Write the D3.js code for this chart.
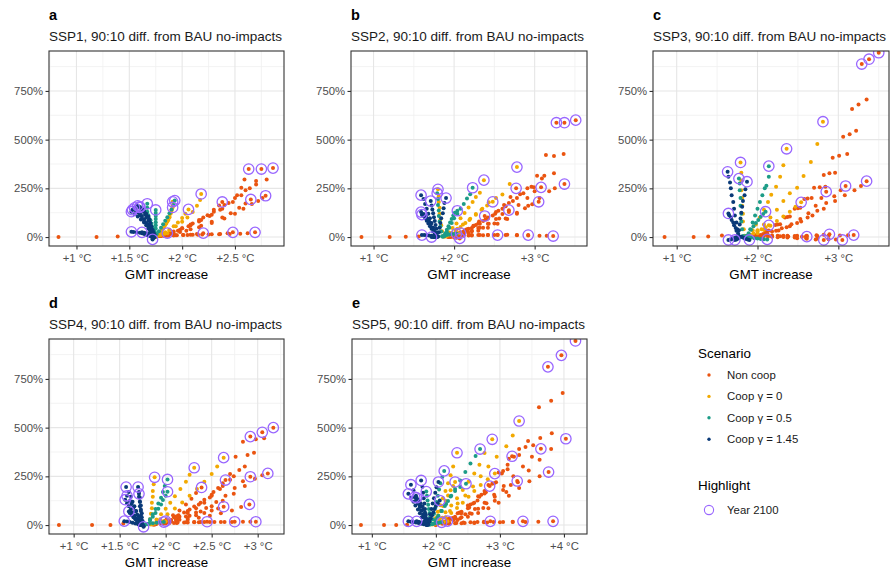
<!DOCTYPE html>
<html>
<head>
<meta charset="utf-8">
<script src="https://cdn.jsdelivr.net/npm/d3@7"></script>
<style>
  body { margin: 0; background: #fff; }
  svg { font-family: "Liberation Sans", Arial, sans-serif; }
</style>
</head>
<body>
<svg id="chart" width="894" height="573"></svg>
<script>
// ---- data: each series is a list of trajectories [gmt, pct]; last point of a trajectory = year 2100
const panelLetters = ["a", "b", "c", "d", "e"];
const panelTitles = [
  "SSP1, 90:10 diff. from BAU no-impacts",
  "SSP2, 90:10 diff. from BAU no-impacts",
  "SSP3, 90:10 diff. from BAU no-impacts",
  "SSP4, 90:10 diff. from BAU no-impacts",
  "SSP5, 90:10 diff. from BAU no-impacts"
];
const xTicks = [[1, 1.5, 2, 2.5], [1, 2, 3], [1, 2, 3], [1, 1.5, 2, 2.5, 3], [1, 2, 3, 4]];
const xDomains = [[0.74, 2.964], [0.72, 3.65], [0.707, 3.627], [0.732, 3.286], [0.69, 4.36]];
const yTicks = [0, 250, 500, 750];
const yDomain = [-46, 955];
const scenarioLabels = ["Non coop", "Coop \u03b3 = 0", "Coop \u03b3 = 0.5", "Coop \u03b3 = 1.45"];
const highlightLabel = "Year 2100";

// SSP1
const ssp1Early = [[0.83, 0], [1.19, 0], [1.39, 3]];
const ssp1NonCoop = [
  [[1.80,5],[1.90,20],[2.00,45],[2.10,70],[2.20,100],[2.30,130],[2.40,165],[2.50,200],[2.60,240],[2.70,270],[2.80,296],[2.86,354]],
  [[1.78,5],[1.88,18],[1.98,38],[2.08,60],[2.18,88],[2.28,115],[2.38,145],[2.48,180],[2.56,215],[2.64,250],[2.70,288],[2.75,349]],
  [[1.76,4],[1.86,15],[1.96,32],[2.06,55],[2.16,80],[2.26,108],[2.36,140],[2.44,175],[2.52,215],[2.56,253],[2.59,296],[2.63,349]],
  [[1.80,6],[1.92,18],[2.04,32],[2.16,50],[2.28,72],[2.40,95],[2.50,120],[2.58,145],[2.66,170],[2.72,185],[2.76,200],[2.79,212]],
  [[1.78,5],[1.88,14],[1.98,26],[2.08,40],[2.18,58],[2.28,78],[2.38,100],[2.46,122],[2.54,150],[2.60,172],[2.65,193]],
  [[1.76,4],[1.84,14],[1.92,28],[2.00,45],[2.08,64],[2.16,88],[2.24,112],[2.30,140],[2.35,162],[2.38,180]],
  [[1.75,2],[1.85,6],[1.95,9],[2.05,11],[2.15,12],[2.25,13],[2.35,14],[2.45,15],[2.55,17],[2.62,20],[2.69,24]],
  [[1.74,2],[1.83,5],[1.92,8],[2.01,10],[2.10,12],[2.19,13],[2.28,14],[2.36,16],[2.43,19],[2.48,24]],
  [[1.73,2],[1.80,5],[1.87,7],[1.94,9],[2.01,10],[2.08,12],[2.14,15],[2.20,20]]
];
const ssp1Coop0 = [
  [[1.76,4],[1.82,18],[1.88,35],[1.94,55],[2.00,78],[2.05,100],[2.10,128],[2.14,160],[2.17,190],[2.18,221]],
  [[1.76,3],[1.80,12],[1.84,24],[1.88,38],[1.92,55],[1.96,75],[2.00,98],[2.03,120],[2.06,142]],
  [[1.75,3],[1.78,14],[1.80,28],[1.82,45],[1.84,62],[1.86,80],[1.88,100],[1.89,122],[1.90,142],[1.91,162],[1.91,181]],
  [[1.75,2],[1.77,12],[1.79,24],[1.81,38],[1.83,54],[1.85,70],[1.87,88],[1.88,104],[1.89,120],[1.90,136],[1.91,152]],
  [[1.74,1],[1.76,5],[1.78,9],[1.80,12],[1.82,15],[1.84,18],[1.86,20]]
];
const ssp1Coop05 = [
  [[1.74,3],[1.76,15],[1.78,30],[1.80,48],[1.82,66],[1.84,84],[1.86,102],[1.88,122],[1.90,142],[1.92,165],[1.93,187]],
  [[1.73,2],[1.73,15],[1.72,32],[1.71,50],[1.70,70],[1.69,92],[1.68,112],[1.67,130],[1.67,150],[1.67,171]],
  [[1.73,2],[1.74,14],[1.74,28],[1.75,44],[1.75,60],[1.75,76],[1.75,92],[1.75,108],[1.75,124],[1.75,139]],
  [[1.74,2],[1.74,16],[1.73,32],[1.72,50],[1.71,68],[1.70,86],[1.68,104],[1.66,120],[1.64,134],[1.62,145],[1.60,155]]
];
const ssp1Coop145 = [
  [[1.72,2],[1.71,12],[1.70,25],[1.69,40],[1.68,55],[1.66,72],[1.64,90],[1.62,108],[1.60,122],[1.57,135],[1.53,140]],
  [[1.73,3],[1.72,15],[1.71,30],[1.70,48],[1.69,66],[1.68,84],[1.66,100],[1.65,116],[1.63,130],[1.62,142],[1.60,152]],
  [[1.74,2],[1.74,10],[1.73,22],[1.72,35],[1.70,48],[1.67,60],[1.64,75],[1.61,90],[1.58,105],[1.55,118],[1.52,130]],
  [[1.73,2],[1.72,14],[1.70,28],[1.68,44],[1.66,60],[1.64,78],[1.62,96],[1.60,112],[1.58,126],[1.56,138],[1.55,150]],
  [[1.74,3],[1.73,18],[1.72,36],[1.71,54],[1.70,72],[1.69,90],[1.68,106],[1.66,120],[1.64,132],[1.62,140],[1.58,160]],
  [[1.72,1],[1.70,4],[1.68,8],[1.66,12],[1.64,16],[1.62,20],[1.60,22],[1.57,24],[1.54,26],[1.52,27]],
  [[1.73,1],[1.72,5],[1.71,9],[1.70,13],[1.68,17],[1.66,20],[1.64,22],[1.62,24]],
  [[1.74,1],[1.73,-5],[1.72,-9],[1.72,-12]]
];

// SSP2
const ssp2Early = [[0.85, 0], [1.20, 0], [1.40, 1], [1.56, 3]];
const ssp2NonCoop = [
  [[1.95,6],[2.06,20],[2.18,42],[2.30,70],[2.42,100],[2.55,135],[2.68,175],[2.82,220],[2.96,258],[3.09,300],[3.24,327],[3.36,426],[3.51,600]],
  [[1.94,5],[2.04,18],[2.15,38],[2.27,62],[2.39,90],[2.51,120],[2.64,158],[2.78,200],[2.91,250],[3.03,315],[3.14,421],[3.27,587]],
  [[1.93,4],[2.03,16],[2.13,34],[2.24,56],[2.36,82],[2.48,110],[2.60,145],[2.73,185],[2.86,225],[2.99,255],[3.12,315],[3.24,416],[3.37,587]],
  [[1.95,5],[2.08,15],[2.22,30],[2.36,48],[2.50,70],[2.64,95],[2.78,125],[2.92,160],[3.06,200],[3.18,235],[3.25,250],[3.37,272]],
  [[1.94,4],[2.05,14],[2.17,28],[2.30,46],[2.43,68],[2.56,95],[2.68,128],[2.80,165],[2.91,200],[3.00,235],[3.08,255]],
  [[1.93,4],[2.02,14],[2.12,28],[2.22,46],[2.32,68],[2.42,95],[2.52,128],[2.62,165],[2.70,205],[2.77,250]],
  [[1.94,3],[2.06,10],[2.18,20],[2.30,32],[2.42,48],[2.54,68],[2.66,92],[2.78,120],[2.88,148],[2.97,168],[3.05,181]],
  [[1.93,3],[2.02,10],[2.12,20],[2.22,32],[2.32,48],[2.42,68],[2.52,92],[2.60,118],[2.68,138]],
  [[1.93,3],[2.00,12],[2.08,24],[2.16,40],[2.24,58],[2.31,80],[2.38,108]],
  [[1.95,2],[2.08,6],[2.22,8],[2.36,9],[2.50,10],[2.64,10],[2.78,9],[2.92,8],[3.06,7],[3.15,6],[3.23,5]],
  [[1.94,2],[2.06,5],[2.18,8],[2.30,10],[2.42,11],[2.54,12],[2.66,12],[2.78,11],[2.92,10]],
  [[1.93,2],[2.02,5],[2.12,8],[2.22,10],[2.32,11],[2.42,11],[2.54,10]],
  [[1.92,1],[1.96,0],[2.00,-2],[2.03,-4],[2.07,-7]]
];
const ssp2Coop0 = [
  [[1.90,5],[1.97,22],[2.04,42],[2.11,64],[2.19,88],[2.27,115],[2.35,145],[2.43,178],[2.52,200],[2.60,219],[2.69,272],[2.78,359]],
  [[1.88,5],[1.93,24],[1.98,46],[2.03,70],[2.08,96],[2.13,124],[2.18,152],[2.23,180],[2.27,205],[2.32,227],[2.37,292]],
  [[1.90,4],[1.96,18],[2.02,34],[2.08,52],[2.14,72],[2.20,94],[2.27,118],[2.34,140],[2.41,162],[2.48,181]],
  [[1.86,4],[1.85,30],[1.84,60],[1.83,90],[1.82,120],[1.82,150],[1.81,180],[1.81,210],[1.80,245]],
  [[1.88,2],[1.92,8],[1.96,12],[2.00,15],[2.04,18],[2.08,20]]
];
const ssp2Coop05 = [
  [[1.88,5],[1.91,25],[1.94,48],[1.97,72],[2.00,96],[2.04,120],[2.08,145],[2.12,170],[2.16,198],[2.20,220],[2.23,253]],
  [[1.87,4],[1.89,20],[1.91,38],[1.93,56],[1.95,74],[1.97,92],[1.99,110],[2.01,125],[2.04,135]],
  [[1.85,4],[1.84,28],[1.83,54],[1.82,80],[1.81,108],[1.81,136],[1.80,165],[1.80,195],[1.79,225]],
  [[1.86,2],[1.88,6],[1.91,10],[1.94,13],[1.97,15],[2.00,16],[2.03,17]]
];
const ssp2Coop145 = [
  [[1.78,3],[1.76,25],[1.74,48],[1.72,72],[1.70,96],[1.68,120],[1.66,145],[1.64,170],[1.62,195],[1.59,215]],
  [[1.80,3],[1.81,25],[1.82,48],[1.83,72],[1.84,96],[1.86,122],[1.87,148],[1.88,175],[1.90,200]],
  [[1.78,2],[1.76,14],[1.74,28],[1.72,42],[1.70,56],[1.68,70],[1.66,84],[1.64,98],[1.62,108],[1.60,115]],
  [[1.79,2],[1.77,16],[1.75,32],[1.73,48],[1.71,64],[1.69,80],[1.67,94],[1.65,106],[1.62,118],[1.59,128]],
  [[1.80,3],[1.79,22],[1.78,42],[1.77,62],[1.76,82],[1.75,102],[1.74,122],[1.73,142],[1.72,162],[1.71,185]],
  [[1.78,1],[1.77,2],[1.76,1],[1.75,0],[1.74,0],[1.72,0]],
  [[1.78,2],[1.75,4],[1.72,6],[1.69,8],[1.66,9],[1.63,10],[1.60,10]]
];

// SSP3
const ssp3Early = [[0.85, 0], [1.21, 0], [1.39, 3], [1.56, 8]];
const ssp3NonCoop = [
  [[1.98,8],[2.10,30],[2.22,62],[2.34,100],[2.46,145],[2.58,195],[2.70,253],[2.82,318],[2.93,407],[3.06,515],[3.17,657],[3.29,888]],
  [[1.99,9],[2.12,32],[2.25,64],[2.37,103],[2.50,148],[2.62,198],[2.77,256],[2.89,327],[3.01,417],[3.14,528],[3.25,681],[3.38,913]],
  [[2.00,10],[2.14,34],[2.28,66],[2.40,106],[2.53,150],[2.67,200],[2.84,258],[2.96,330],[3.11,426],[3.22,545],[3.35,706],[3.50,946]],
  [[1.98,6],[2.12,18],[2.26,34],[2.40,55],[2.54,80],[2.68,110],[2.82,145],[2.96,185],[3.08,215],[3.20,240],[3.28,262],[3.35,287]],
  [[1.97,6],[2.10,17],[2.23,32],[2.36,50],[2.49,72],[2.62,100],[2.74,135],[2.85,175],[2.95,210],[3.03,240],[3.09,262]],
  [[1.96,5],[2.07,15],[2.18,28],[2.30,45],[2.42,66],[2.53,92],[2.63,122],[2.72,160],[2.79,200],[2.85,233]],
  [[1.90,8],[2.04,10],[2.18,8],[2.32,6],[2.46,5],[2.60,4],[2.74,5],[2.88,6],[3.02,8],[3.12,9],[3.19,10]],
  [[1.89,8],[2.01,9],[2.13,8],[2.25,7],[2.37,6],[2.49,6],[2.61,7],[2.73,9],[2.82,12],[2.89,14]],
  [[1.90,6],[2.04,4],[2.18,2],[2.32,0],[2.46,-2],[2.60,-5],[2.74,-8],[2.88,-11],[2.97,-13],[3.05,-15]],
  [[1.89,5],[2.01,3],[2.13,1],[2.25,-1],[2.37,-3],[2.49,-6],[2.61,-9],[2.72,-12],[2.82,-15]],
  [[1.88,6],[1.98,6],[2.08,5],[2.18,4],[2.28,4],[2.38,3],[2.48,3],[2.55,2],[2.61,2]]
];
const ssp3Coop0 = [
  [[1.92,10],[2.00,35],[2.08,65],[2.16,100],[2.24,140],[2.32,185],[2.40,225],[2.49,253],[2.57,313],[2.66,385],[2.74,477],[2.81,592]],
  [[1.90,8],[1.94,35],[1.98,65],[2.03,100],[2.08,140],[2.13,180],[2.17,217],[2.23,258],[2.28,309],[2.32,369],[2.36,453]],
  [[1.92,6],[2.00,20],[2.08,38],[2.16,58],[2.24,82],[2.32,106],[2.40,130],[2.47,155],[2.54,178]],
  [[1.84,6],[1.83,40],[1.82,80],[1.82,120],[1.81,160],[1.81,200],[1.80,240],[1.80,290],[1.80,330],[1.79,383]],
  [[1.86,4],[1.90,10],[1.95,20],[2.00,30],[2.05,40],[2.10,50],[2.14,60]]
];
const ssp3Coop05 = [
  [[1.88,6],[1.91,40],[1.94,75],[1.97,110],[2.00,145],[2.03,180],[2.06,215],[2.09,250],[2.11,263],[2.14,309],[2.14,364]],
  [[1.86,5],[1.89,20],[1.92,38],[1.95,55],[1.98,72],[2.01,88],[2.04,104],[2.07,118],[2.10,130]],
  [[1.82,5],[1.81,40],[1.80,80],[1.80,120],[1.79,160],[1.79,200],[1.78,240],[1.78,275],[1.77,300]],
  [[1.84,3],[1.88,0],[1.92,-3],[1.96,-6],[2.00,-8],[2.04,-10],[2.08,-11],[2.12,-12]]
];
const ssp3Coop145 = [
  [[1.76,5],[1.75,40],[1.74,75],[1.72,110],[1.71,145],[1.70,180],[1.68,215],[1.67,250],[1.66,280],[1.64,310],[1.63,335]],
  [[1.76,5],[1.77,35],[1.78,65],[1.79,95],[1.80,125],[1.81,155],[1.82,185],[1.84,215],[1.85,245],[1.87,284]],
  [[1.77,4],[1.76,18],[1.74,32],[1.73,46],[1.71,60],[1.70,74],[1.68,88],[1.67,100],[1.65,112],[1.64,121]],
  [[1.77,2],[1.75,0],[1.73,-3],[1.71,-6],[1.69,-9],[1.67,-12],[1.64,-15]],
  [[1.80,2],[1.82,-2],[1.84,-6],[1.86,-10],[1.88,-13],[1.90,-15]],
  [[1.78,1],[1.77,-4],[1.76,-8],[1.74,-12],[1.72,-15]]
];

// SSP4
const ssp4Early = [[0.84, 0], [1.20, 0], [1.40, 0], [1.54, 8]];
const ssp4NonCoop = [
  [[1.90,8],[2.02,25],[2.14,50],[2.26,80],[2.38,115],[2.50,155],[2.62,200],[2.74,250],[2.86,300],[2.96,371],[3.07,445],[3.17,500]],
  [[1.89,7],[2.00,22],[2.12,45],[2.24,72],[2.36,105],[2.48,142],[2.59,185],[2.70,232],[2.80,282],[2.89,360],[2.98,440],[3.05,476]],
  [[1.88,6],[1.98,20],[2.09,40],[2.20,65],[2.31,95],[2.42,130],[2.52,170],[2.62,215],[2.70,262],[2.76,351],[2.84,428],[2.92,454]],
  [[1.90,6],[2.02,16],[2.14,30],[2.26,48],[2.38,70],[2.50,96],[2.62,125],[2.74,160],[2.86,200],[2.97,238],[3.05,255],[3.11,265]],
  [[1.89,5],[2.00,14],[2.11,27],[2.22,44],[2.33,64],[2.44,88],[2.55,118],[2.65,150],[2.75,190],[2.84,225],[2.92,248]],
  [[1.88,5],[1.97,14],[2.06,26],[2.15,42],[2.24,62],[2.33,86],[2.42,115],[2.50,150],[2.57,190],[2.65,231]],
  [[1.89,4],[2.00,10],[2.12,18],[2.24,27],[2.36,37],[2.48,48],[2.60,60],[2.72,75],[2.82,92],[2.91,106]],
  [[1.88,4],[1.97,10],[2.06,18],[2.15,27],[2.24,38],[2.33,50],[2.42,62],[2.50,74],[2.57,85],[2.63,94]],
  [[1.87,4],[1.94,15],[2.01,30],[2.08,50],[2.15,75],[2.22,105],[2.28,135],[2.33,165],[2.39,193]],
  [[1.88,3],[2.00,8],[2.12,11],[2.24,13],[2.36,14],[2.48,15],[2.60,16],[2.72,16],[2.84,17],[2.92,17],[2.98,17]],
  [[1.87,3],[1.98,8],[2.09,11],[2.20,13],[2.31,14],[2.42,15],[2.53,16],[2.64,16],[2.75,17]],
  [[1.86,3],[1.95,8],[2.04,11],[2.13,13],[2.22,14],[2.31,15],[2.38,16],[2.45,17]]
];
const ssp4Coop0 = [
  [[1.86,6],[1.94,30],[2.02,56],[2.10,85],[2.18,116],[2.26,150],[2.34,185],[2.42,222],[2.50,262],[2.56,300],[2.63,346]],
  [[1.85,5],[1.90,28],[1.95,55],[2.00,84],[2.05,115],[2.10,148],[2.16,185],[2.22,222],[2.26,258],[2.31,294]],
  [[1.82,5],[1.83,30],[1.84,58],[1.85,86],[1.85,115],[1.86,145],[1.86,175],[1.87,210],[1.88,245]],
  [[1.84,3],[1.88,8],[1.92,12],[1.96,16],[2.00,20]]
];
const ssp4Coop05 = [
  [[1.80,5],[1.83,30],[1.86,56],[1.89,82],[1.92,110],[1.95,140],[1.97,170],[1.99,200],[2.02,234]],
  [[1.80,4],[1.83,22],[1.86,42],[1.89,62],[1.92,84],[1.95,106],[1.97,128],[2.00,150],[2.02,171]],
  [[1.78,3],[1.82,6],[1.86,9],[1.90,12],[1.94,14],[1.98,15]]
];
const ssp4Coop145 = [
  [[1.72,3],[1.71,25],[1.70,48],[1.68,72],[1.66,96],[1.64,120],[1.62,145],[1.60,170],[1.57,195]],
  [[1.74,3],[1.74,25],[1.73,48],[1.73,72],[1.72,96],[1.72,120],[1.71,145],[1.71,170],[1.70,195]],
  [[1.73,2],[1.72,18],[1.71,36],[1.69,54],[1.67,72],[1.65,90],[1.63,108],[1.61,124],[1.58,150]],
  [[1.75,2],[1.75,20],[1.74,40],[1.74,60],[1.73,80],[1.73,100],[1.72,120],[1.72,140],[1.71,160]],
  [[1.72,2],[1.70,16],[1.68,32],[1.66,48],[1.64,64],[1.62,80],[1.60,96],[1.58,112],[1.56,130]],
  [[1.72,1],[1.70,4],[1.67,8],[1.64,12],[1.61,15],[1.58,18],[1.55,20]],
  [[1.73,2],[1.71,10],[1.69,20],[1.67,30],[1.65,40],[1.63,52],[1.61,62],[1.60,70]],
  [[1.74,1],[1.75,-2],[1.76,-6],[1.76,-9]]
];

// SSP5
const ssp5Early = [[0.83, 0], [1.19, 0], [1.38, 0], [1.55, 2]];
const ssp5NonCoop = [
  [[2.02,8],[2.18,30],[2.34,60],[2.50,100],[2.66,148],[2.82,205],[2.98,270],[3.14,340],[3.30,390],[3.44,431],[3.61,605],[3.75,812]],
  [[2.03,9],[2.20,32],[2.37,64],[2.54,105],[2.71,155],[2.88,212],[3.05,278],[3.22,350],[3.40,400],[3.63,447],[3.80,638],[3.96,871]],
  [[2.04,10],[2.22,34],[2.40,68],[2.58,110],[2.76,162],[2.94,220],[3.12,286],[3.30,360],[3.52,410],[3.81,471],[3.98,678],[4.18,945]],
  [[2.02,6],[2.20,18],[2.38,35],[2.56,58],[2.74,88],[2.92,125],[3.10,170],[3.28,220],[3.45,280],[3.62,335],[3.80,390],[4.03,443]],
  [[2.01,6],[2.16,17],[2.31,33],[2.46,55],[2.61,82],[2.76,115],[2.91,155],[3.06,200],[3.21,250],[3.36,300],[3.50,350],[3.64,391]],
  [[2.02,5],[2.18,14],[2.34,26],[2.50,42],[2.66,62],[2.82,86],[2.98,115],[3.14,150],[3.30,190],[3.46,225],[3.62,250],[3.76,272]],
  [[2.00,5],[2.13,18],[2.26,36],[2.39,60],[2.52,90],[2.65,126],[2.78,168],[2.91,215],[3.03,265],[3.12,310],[3.19,353]],
  [[2.01,4],[2.14,12],[2.27,24],[2.40,40],[2.53,60],[2.66,84],[2.79,112],[2.92,145],[3.05,180],[3.17,205],[3.27,226]],
  [[2.00,4],[2.10,13],[2.20,26],[2.30,42],[2.40,62],[2.50,86],[2.60,114],[2.68,145],[2.76,175],[2.84,200]],
  [[2.00,2],[2.20,6],[2.40,9],[2.60,11],[2.80,13],[3.00,14],[3.20,15],[3.40,16],[3.60,17],[3.83,19]],
  [[2.00,2],[2.15,6],[2.30,9],[2.45,11],[2.60,13],[2.75,14],[2.90,15],[3.05,16],[3.20,17],[3.36,19]],
  [[1.99,2],[2.10,6],[2.21,9],[2.32,11],[2.43,13],[2.54,14],[2.65,15],[2.75,17],[2.85,19]]
];
const ssp5Coop0 = [
  [[1.98,8],[2.10,38],[2.22,72],[2.34,110],[2.46,152],[2.58,198],[2.70,250],[2.82,300],[2.95,350],[3.10,405],[3.20,460],[3.30,534]],
  [[1.97,7],[2.06,35],[2.15,66],[2.24,100],[2.33,138],[2.42,180],[2.51,222],[2.60,265],[2.68,310],[2.76,370],[2.88,440]],
  [[1.95,6],[1.99,35],[2.03,68],[2.07,102],[2.11,138],[2.15,175],[2.19,215],[2.23,255],[2.27,300],[2.33,371]],
  [[1.97,5],[2.06,20],[2.15,40],[2.24,62],[2.33,88],[2.42,115],[2.51,145],[2.60,175],[2.70,205],[2.81,235],[2.92,264]],
  [[1.95,5],[1.99,25],[2.03,48],[2.07,72],[2.11,98],[2.15,125],[2.19,152],[2.23,178],[2.27,200],[2.30,221]],
  [[1.94,3],[2.00,8],[2.06,12],[2.12,16],[2.18,20]]
];
const ssp5Coop05 = [
  [[1.95,6],[2.02,38],[2.09,72],[2.16,108],[2.23,146],[2.30,185],[2.38,228],[2.46,272],[2.54,316],[2.62,355],[2.69,390]],
  [[1.93,5],[1.95,30],[1.97,58],[1.99,88],[2.01,118],[2.03,150],[2.05,182],[2.07,214],[2.10,246],[2.13,278]],
  [[1.94,5],[1.99,25],[2.04,48],[2.09,72],[2.14,98],[2.19,124],[2.24,150],[2.30,175],[2.38,195],[2.47,212]],
  [[1.92,4],[1.91,22],[1.91,42],[1.90,62],[1.89,82],[1.88,104],[1.87,126],[1.86,150],[1.85,172]],
  [[1.90,2],[1.94,5],[1.98,8],[2.02,11],[2.06,13],[2.09,14]]
];
const ssp5Coop145 = [
  [[1.88,4],[1.89,30],[1.91,56],[1.93,82],[1.95,110],[1.97,138],[1.99,166],[2.01,194],[2.04,221]],
  [[1.86,4],[1.85,30],[1.84,56],[1.83,82],[1.82,110],[1.81,138],[1.80,166],[1.79,196],[1.77,229]],
  [[1.86,3],[1.84,26],[1.81,50],[1.78,74],[1.75,98],[1.72,124],[1.69,150],[1.65,178],[1.61,207]],
  [[1.88,3],[1.90,18],[1.92,34],[1.94,50],[1.96,66],[1.98,82],[2.00,98],[2.03,112],[2.06,126]],
  [[1.85,2],[1.82,20],[1.78,40],[1.75,60],[1.72,80],[1.68,100],[1.65,120],[1.61,140],[1.57,160]],
  [[1.87,2],[1.86,16],[1.85,32],[1.84,48],[1.83,64],[1.81,80],[1.79,96],[1.76,112],[1.73,128],[1.70,140]],
  [[1.85,1],[1.81,4],[1.77,7],[1.73,10],[1.69,13],[1.65,15],[1.61,17],[1.57,19]],
  [[1.86,1],[1.83,5],[1.80,9],[1.77,12],[1.74,15],[1.72,17],[1.70,19]],
  [[1.86,3],[1.84,20],[1.82,38],[1.80,56],[1.77,74],[1.75,92],[1.72,110],[1.69,127],[1.67,143]]
];

const panelEarly = [ssp1Early, ssp2Early, ssp3Early, ssp4Early, ssp5Early];
const panelSeries = [
  [ssp1NonCoop, ssp1Coop0, ssp1Coop05, ssp1Coop145],
  [ssp2NonCoop, ssp2Coop0, ssp2Coop05, ssp2Coop145],
  [ssp3NonCoop, ssp3Coop0, ssp3Coop05, ssp3Coop145],
  [ssp4NonCoop, ssp4Coop0, ssp4Coop05, ssp4Coop145],
  [ssp5NonCoop, ssp5Coop0, ssp5Coop05, ssp5Coop145]
];

// ---- styling / layout
const colors = ["#EA5410", "#F2A900", "#1C9C87", "#0A3A78"];
const ringColor = "#9966FF";
const dotR = 2.0;
const layout = [
  {x: 49, y: 51, w: 235, h: 195},
  {x: 351, y: 51, w: 236, h: 195},
  {x: 653, y: 51, w: 236, h: 195},
  {x: 49, y: 339, w: 235, h: 195},
  {x: 352, y: 339, w: 235, h: 195}
];

const svg = d3.select("#chart");
svg.append("rect").attr("width", 894).attr("height", 573).attr("fill", "#fff");

function minorBreaks(ticks, domain) {
  const step = ticks[1] - ticks[0];
  const out = [ticks[0] - step / 2];
  ticks.forEach(t => out.push(t + step / 2));
  return out.filter(v => v > domain[0] && v < domain[1]);
}

panelLetters.forEach((letter, i) => {
  const L = layout[i];
  const x = d3.scaleLinear().domain(xDomains[i]).range([0, L.w]);
  const y = d3.scaleLinear().domain(yDomain).range([L.h, 0]);
  const g = svg.append("g").attr("transform", `translate(${L.x},${L.y})`);

  // titles
  svg.append("text").attr("x", L.x).attr("y", L.y - 31)
    .attr("font-size", "14.5px").attr("font-weight", "bold").attr("fill", "#000").text(letter);
  svg.append("text").attr("x", L.x).attr("y", L.y - 9.8)
    .attr("font-size", "13.5px").attr("fill", "#1a1a1a").text(panelTitles[i]);

  // grid
  const grid = g.append("g");
  minorBreaks(xTicks[i], xDomains[i]).forEach(v => {
    grid.append("line").attr("x1", x(v)).attr("x2", x(v)).attr("y1", 0).attr("y2", L.h)
      .attr("stroke", "#F0F0F0").attr("stroke-width", 0.8);
  });
  minorBreaks(yTicks, yDomain).forEach(v => {
    grid.append("line").attr("y1", y(v)).attr("y2", y(v)).attr("x1", 0).attr("x2", L.w)
      .attr("stroke", "#F0F0F0").attr("stroke-width", 0.8);
  });
  xTicks[i].forEach(v => {
    grid.append("line").attr("x1", x(v)).attr("x2", x(v)).attr("y1", 0).attr("y2", L.h)
      .attr("stroke", "#E6E6E6").attr("stroke-width", 1.1);
  });
  yTicks.forEach(v => {
    grid.append("line").attr("y1", y(v)).attr("y2", y(v)).attr("x1", 0).attr("x2", L.w)
      .attr("stroke", "#E6E6E6").attr("stroke-width", 1.1);
  });

  // points
  const clipId = "clip" + i;
  g.append("clipPath").attr("id", clipId).append("rect").attr("width", L.w).attr("height", L.h);
  const pts = g.append("g").attr("clip-path", `url(#${clipId})`);

  pts.selectAll(".early").data(panelEarly[i]).join("circle")
    .attr("cx", d => x(d[0])).attr("cy", d => y(d[1])).attr("r", dotR).attr("fill", colors[0]);

  const series = panelSeries[i];
  series.forEach((trajs, s) => {
    const flat = trajs.flat();
    pts.append("g").selectAll("circle").data(flat).join("circle")
      .attr("cx", d => x(d[0])).attr("cy", d => y(d[1])).attr("r", dotR).attr("fill", colors[s]);
  });

  const ends = series.flatMap(trajs => trajs.map(t => t[t.length - 1]));
  pts.append("g").selectAll("circle").data(ends).join("circle")
    .attr("cx", d => x(d[0])).attr("cy", d => y(d[1])).attr("r", 5.2)
    .attr("fill", "none").attr("stroke", ringColor).attr("stroke-width", 1.3);

  // border
  g.append("rect").attr("width", L.w).attr("height", L.h)
    .attr("fill", "none").attr("stroke", "#333").attr("stroke-width", 1.1);

  // axes
  const xa = g.append("g").attr("transform", `translate(0,${L.h})`)
    .call(d3.axisBottom(x).tickValues(xTicks[i]).tickSize(3.5).tickPadding(4.5)
      .tickFormat(d => "+" + d + " \u00b0C"));
  const ya = g.append("g")
    .call(d3.axisLeft(y).tickValues(yTicks).tickSize(3.5).tickPadding(2.5).tickFormat(d => d + "%"));
  [xa, ya].forEach(a => {
    a.select(".domain").remove();
    a.selectAll("line").attr("stroke", "#333").attr("stroke-width", 1.1);
    a.selectAll("text").attr("fill", "#4D4D4D").attr("font-size", "11.3px")
      .attr("font-family", "Liberation Sans, Arial, sans-serif");
  });

  svg.append("text").attr("x", L.x + L.w / 2).attr("y", L.y + L.h + 32.5)
    .attr("text-anchor", "middle").attr("font-size", "13.3px").attr("fill", "#000").text("GMT increase");
});

// ---- legend
const lg = svg.append("g").attr("font-size", "11.4px");
lg.append("text").attr("x", 698).attr("y", 358).attr("font-size", "13.4px").attr("fill", "#000").text("Scenario");
scenarioLabels.forEach((lab, k) => {
  const cy = 375 + k * 21.4;
  lg.append("circle").attr("cx", 709).attr("cy", cy).attr("r", 1.7).attr("fill", colors[k]);
  lg.append("text").attr("x", 727).attr("y", cy + 4).attr("fill", "#1a1a1a").text(lab);
});
lg.append("text").attr("x", 698).attr("y", 490).attr("font-size", "13.4px").attr("fill", "#000").text("Highlight");
lg.append("circle").attr("cx", 709).attr("cy", 510).attr("r", 4.6)
  .attr("fill", "none").attr("stroke", ringColor).attr("stroke-width", 1.1);
lg.append("text").attr("x", 727).attr("y", 514).attr("fill", "#1a1a1a").text(highlightLabel);
</script>
</body>
</html>
